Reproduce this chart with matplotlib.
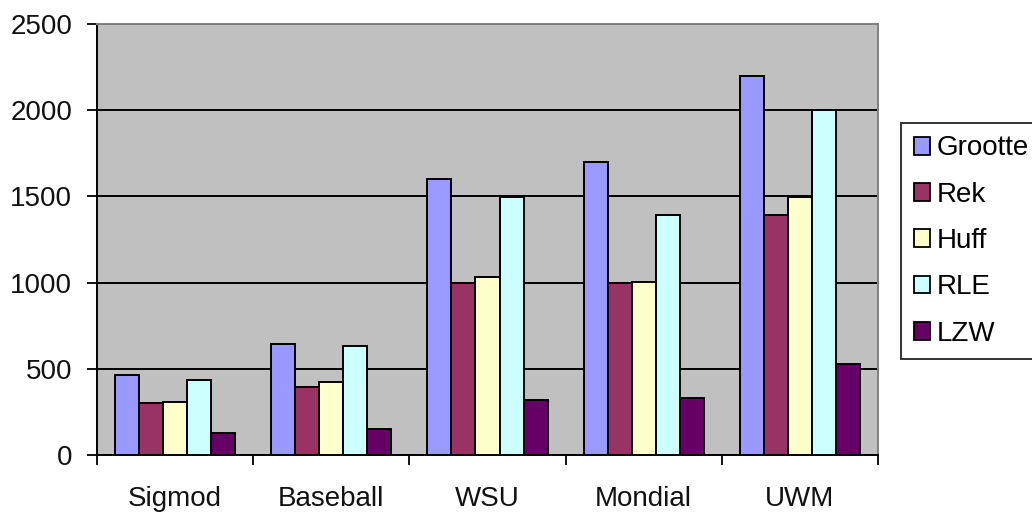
import matplotlib
matplotlib.use("Agg")
import matplotlib.pyplot as plt
from matplotlib.patches import Patch
import numpy as np

# Compressed sizes per data set, one list per method
datasets = ["Sigmod", "Baseball", "WSU", "Mondial", "UWM"]
methods = ["Grootte", "Rek", "Huff", "RLE", "LZW"]
grootte = [465, 645, 1600, 1700, 2200]
rek = [300, 395, 995, 995, 1395]
huff = [310, 425, 1035, 1005, 1495]
rle = [435, 630, 1495, 1395, 2000]
lzw = [130, 150, 320, 330, 525]
colors = ["#9999FF", "#993366", "#FFFFCC", "#CCFFFF", "#660066"]

plt.rcParams["font.family"] = ["Liberation Sans", "DejaVu Sans"]
plt.rcParams["font.size"] = 20

fig = plt.figure(figsize=(10.32, 5.13), dpi=100)
ax = fig.add_axes([97 / 1032, 1 - 455 / 513, (878 - 97) / 1032, (455 - 24) / 513])
ax.set_facecolor("#C0C0C0")

# excel style: gap width 150% -> each bar is 1/6.5 of a category
width = 1 / 6.5
x = np.arange(len(datasets))
series = [grootte, rek, huff, rle, lzw]
for i, vals in enumerate(series):
    offs = -0.5 + 0.75 / 6.5 + (i + 0.5) * width
    ax.bar(x + offs, vals, width, color=colors[i], edgecolor="black",
           linewidth=1.4, zorder=3)

ax.set_xlim(-0.5, len(datasets) - 0.5)
ax.set_ylim(0, 2500)
ax.set_yticks(np.arange(0, 2501, 500))
ax.yaxis.grid(True, color="black", linewidth=1.4, zorder=1)
ax.set_axisbelow(True)

# category labels sit between the tick marks
ax.set_xticks(np.arange(-0.5, len(datasets)), minor=False)
ax.set_xticklabels([])
ax.set_xticks(x, minor=True)
ax.set_xticklabels(datasets, minor=True)
ax.tick_params(axis="x", which="minor", length=0, pad=22)
ax.tick_params(axis="x", which="major", length=7, width=1.3, direction="out")
ax.tick_params(axis="y", length=7, width=1.3, direction="out", pad=11)
for lbl in ax.get_xticklabels(minor=True) + ax.get_yticklabels():
    lbl.set_color("#111111")

for side in ["left", "bottom"]:
    ax.spines[side].set_color("black")
    ax.spines[side].set_linewidth(1.4)
for side in ["top", "right"]:
    ax.spines[side].set_color("#808080")
    ax.spines[side].set_linewidth(1.4)

handles = [Patch(facecolor=c, edgecolor="black", linewidth=1.3) for c in colors]
leg = fig.legend(handles, methods, loc="upper left",
                 bbox_to_anchor=(901 / 1032, 1 - 123 / 513),
                 frameon=True, fancybox=False, fontsize=20,
                 handlelength=0.6, handleheight=0.6, handletextpad=0.25,
                 labelspacing=0.73, borderpad=0.45, borderaxespad=0)
leg.get_frame().set_edgecolor("black")
leg.get_frame().set_linewidth(1.4)

fig.savefig("out.png", dpi=100)
